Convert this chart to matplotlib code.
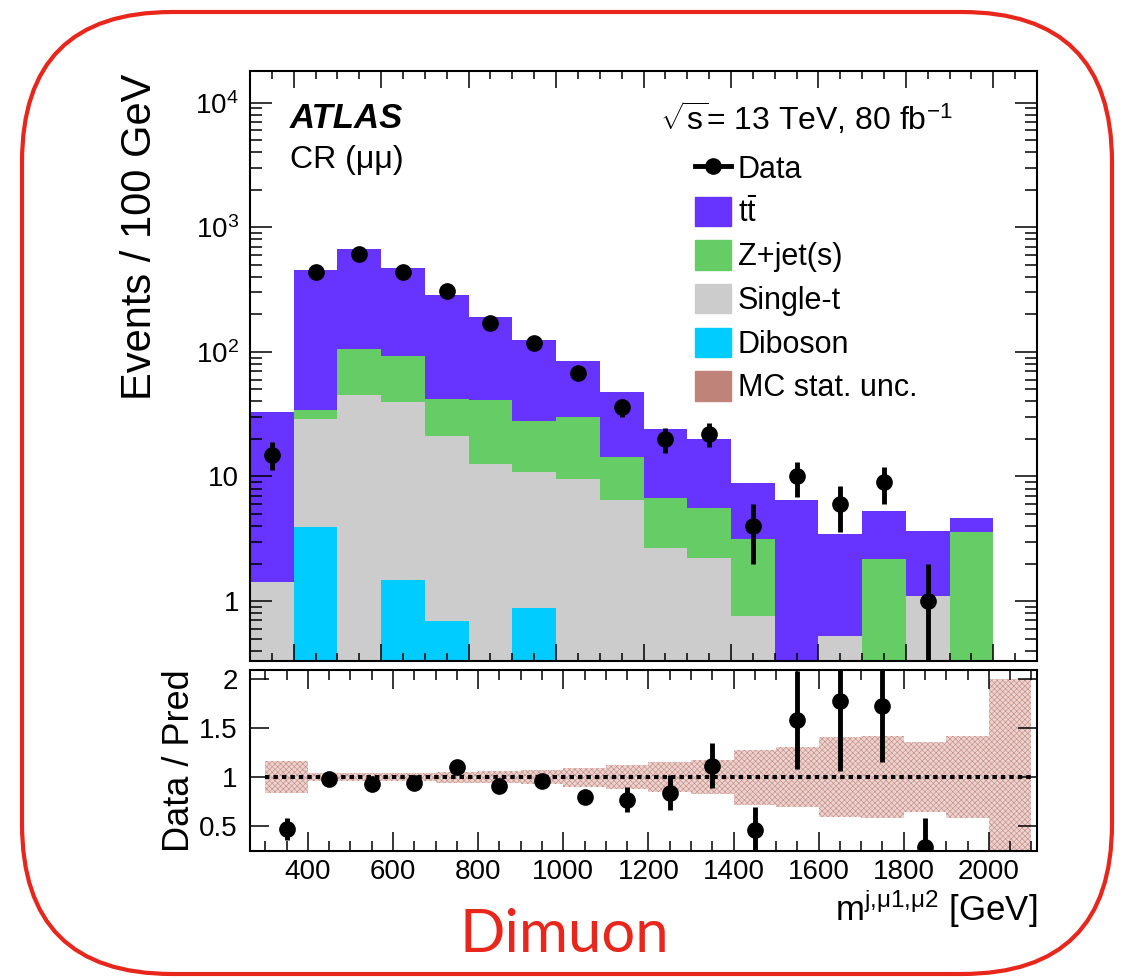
import numpy as np
import matplotlib
matplotlib.use("Agg")
import matplotlib.pyplot as plt
from matplotlib.lines import Line2D
from matplotlib.patches import Patch, FancyBboxPatch
from matplotlib.ticker import MultipleLocator, FixedLocator, LogLocator, FuncFormatter, NullFormatter
from matplotlib.transforms import IdentityTransform

plt.rcParams['font.family'] = ['Liberation Sans', 'DejaVu Sans']
plt.rcParams['mathtext.fontset'] = 'custom'
plt.rcParams['mathtext.rm'] = 'Liberation Sans'
plt.rcParams['mathtext.it'] = 'Liberation Sans:italic'
plt.rcParams['mathtext.bf'] = 'Liberation Sans:bold'
plt.rcParams['hatch.linewidth'] = 0.45

# binning in m(j,mu1,mu2) [GeV]
bin_edges = [300, 400, 500, 600, 700, 800, 900, 1000, 1100, 1200,
             1300, 1400, 1500, 1600, 1700, 1800, 1900, 2000, 2100]

# MC components per bin (events / 100 GeV)
diboson = [0, 3.9, 0, 1.47, 0.69, 0, 0.88, 0, 0, 0, 0, 0, 0, 0, 0, 0, 0, 0]
single_t = [1.43, 25.1, 44.9, 38.2, 20.3, 12.6, 10.0, 9.6, 6.5, 2.67, 2.23, 0.76, 0, 0.52, 0, 1.1, 0, 0]
zjets = [0, 5.2, 60.8, 53.2, 20.7, 28.3, 17.0, 20.4, 7.8, 4.0, 3.35, 2.39, 0, 0, 2.17, 0, 3.56, 0]
ttbar = [31.4, 422, 566, 383, 245, 150, 97, 54.7, 33.2, 17.5, 14.4, 5.65, 6.44, 2.93, 3.11, 2.55, 1.06, 0]

# relative MC stat. uncertainty per bin (ratio panel band half width)
mc_unc = [0.165, 0.043, 0.043, 0.04, 0.056, 0.063, 0.073, 0.096, 0.12, 0.15,
          0.177, 0.28, 0.31, 0.41, 0.42, 0.36, 0.42, 1.0]

# data
data_x = [350, 450, 550, 650, 750, 850, 950, 1050, 1150, 1250, 1350, 1450, 1550, 1650, 1750, 1850]
data_y = [15, 442, 612, 442, 311, 170, 118, 67.4, 36, 20, 21.9, 4, 10, 6, 9, 1]
data_err_lo = [3.7, 21, 25, 21, 18, 13, 11, 8, 6, 4.5, 4.6, 2.0, 3.1, 2.4, 3.0, 1.0]
data_err_hi = [3.8, 21, 25, 21, 18, 13, 11, 8, 6, 4.4, 4.8, 2.0, 3.1, 2.4, 3.0, 1.0]

# data / prediction
ratio = [0.47, 0.98, 0.93, 0.945, 1.10, 0.91, 0.96, 0.80, 0.77, 0.84, 1.115, 0.46, 1.58, 1.78, 1.73, 0.29]
ratio_err = [0.11, 0.03, 0.03, 0.03, 0.03, 0.04, 0.05, 0.06, 0.13, 0.18, 0.23, 0.23, 0.5, 0.72, 0.58, 0.29]

colors = {'tt': '#6633ff', 'z': '#66cc66', 'st': '#cccccc', 'vv': '#00ccff', 'unc': '#c0837a'}
red = '#e8261c'

fig = plt.figure(figsize=(11.29, 9.8), dpi=100)
ax = fig.add_axes([250 / 1129, 1 - 661 / 980, 787 / 1129, 590 / 980])
rax = fig.add_axes([250 / 1129, 1 - 851 / 980, 787 / 1129, 181 / 980])

# stacked histogram
edges = np.array(bin_edges)
bottom = np.zeros(len(edges) - 1)
for vals, col in [(diboson, colors['vv']), (single_t, colors['st']),
                  (zjets, colors['z']), (ttbar, colors['tt'])]:
    top = bottom + np.array(vals)
    ax.stairs(top, edges, baseline=bottom, fill=True, color=col, linewidth=0)
    bottom = top

ax.errorbar(data_x, data_y, yerr=[data_err_lo, data_err_hi], fmt='o', color='k',
            ms=11, elinewidth=3.5, capsize=0, zorder=5)

ax.set_yscale('log')
ax.set_xlim(300, 2100)
ax.set_ylim(0.33, 1.8e4)
ax.xaxis.set_major_locator(MultipleLocator(200))
ax.xaxis.set_minor_locator(MultipleLocator(50))
ax.yaxis.set_major_locator(LogLocator(base=10))
ax.yaxis.set_minor_locator(LogLocator(base=10, subs=range(2, 10)))
ax.yaxis.set_minor_formatter(NullFormatter())


def log_fmt(v, pos):
    if v == 1:
        return '1'
    if v == 10:
        return '10'
    return r'$10^{%d}$' % round(np.log10(v))


ax.yaxis.set_major_formatter(FuncFormatter(log_fmt))
ax.tick_params(axis='x', which='both', direction='in', top=True, bottom=True, labelbottom=False)
ax.tick_params(axis='x', which='major', length=12, width=1.1)
ax.tick_params(axis='x', which='minor', length=6, width=1.1)
ax.tick_params(axis='y', which='both', direction='in', left=True, right=True, labelsize=20, pad=8)
ax.tick_params(axis='y', which='major', length=16, width=1.1)
ax.tick_params(axis='y', which='minor', length=8.5, width=1.1)

ax.set_ylabel('Events / 100 GeV', fontsize=30, ha='right')
ax.yaxis.set_label_coords(-0.114, 0.995)

ax.text(0.0508, 0.903, 'ATLAS', fontsize=25, fontweight='bold', style='italic',
        transform=ax.transAxes, va='baseline')
ax.text(0.0508, 0.836, 'CR (μμ)', fontsize=23, transform=ax.transAxes, va='baseline')
ax.text(0.521, 0.90, r'$\sqrt{\mathrm{s}}$= 13 TeV, 80 fb$^{\mathrm{-1}}$', fontsize=23,
        transform=ax.transAxes, va='baseline')

handles = [Line2D([], [], color='k', lw=3.5, marker='o', ms=11),
           Patch(color=colors['tt']), Patch(color=colors['z']), Patch(color=colors['st']),
           Patch(color=colors['vv']), Patch(color=colors['unc'])]
labels = ['Data', r'$\mathrm{t\bar{t}}$', 'Z+jet(s)', 'Single-t', 'Diboson', 'MC stat. unc.']
ax.legend(handles, labels, loc='upper left', bbox_to_anchor=(0.5654, 0.861), frameon=False,
          fontsize=22, handlelength=1.18, handleheight=1.1, handletextpad=0.22,
          labelspacing=0.38, borderpad=0, borderaxespad=0)

# ratio panel
unc = np.array(mc_unc)
rax.bar(edges[:-1], 2 * unc, bottom=1 - unc, width=100, align='edge',
        facecolor='#ebd3cf', edgecolor='#c88e86', hatch='xxxxxx', linewidth=0)
rax.hlines(1, 300, 2100, colors='k', linestyles=(0, (1.1, 1.0)), lw=2.9, zorder=3)
rax.errorbar(data_x, ratio, yerr=ratio_err, fmt='o', color='k', ms=11,
             elinewidth=3.5, capsize=0, zorder=5)

rax.set_xlim(264, 2113)
rax.set_ylim(0.245, 2.095)
rax.xaxis.set_major_locator(MultipleLocator(200))
rax.xaxis.set_minor_locator(MultipleLocator(50))
rax.yaxis.set_major_locator(FixedLocator([0.5, 1, 1.5, 2]))
rax.yaxis.set_major_formatter(FuncFormatter(lambda v, p: '%g' % v))
rax.tick_params(axis='both', which='both', direction='in', top=True, right=True,
                labelsize=20, width=1.1)
rax.tick_params(axis='x', which='major', length=14, pad=6)
rax.tick_params(axis='x', which='minor', length=7)
rax.tick_params(axis='y', which='major', length=14, pad=9)

rax.set_ylabel('Data / Pred', fontsize=26)
rax.yaxis.set_label_coords(-0.067, 0.5)
rax.set_xlabel(r'm$^{\mathrm{j{,}μ1{,}μ2}}$ [GeV]', fontsize=25, ha='right')
rax.xaxis.set_label_coords(1.0, -0.2)

for a in (ax, rax):
    for s in a.spines.values():
        s.set_linewidth(1.5)

fig.text(0.5, 0.0286, 'Dimuon', color=red, fontsize=43, family=['Lato', 'DejaVu Sans'],
         ha='center', va='baseline')

border = FancyBboxPatch((22, 6), 1090, 962, boxstyle='round,pad=0,rounding_size=150',
                        transform=IdentityTransform(), fill=False, edgecolor=red, lw=3)
fig.add_artist(border)

fig.savefig('out.png', dpi=100)
